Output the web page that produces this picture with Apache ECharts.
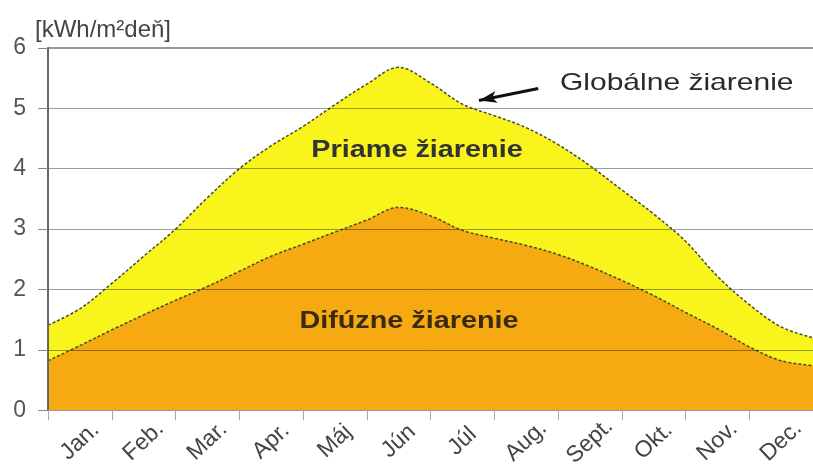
<!DOCTYPE html>
<html>
<head>
<meta charset="utf-8">
<script src="https://cdn.jsdelivr.net/npm/echarts@6/dist/echarts.min.js"></script>
<style>html,body{margin:0;padding:0;background:#fff}#c{width:813px;height:470px}</style>
</head>
<body>
<div id="c"></div>
<script>
const months = ['Jan.','Feb.','Mar.','Apr.','Máj','Jún','Júl','Aug.','Sept.','Okt.','Nov.','Dec.'];
const xPos = [0,0.5,1,1.5,2,2.5,3,3.5,4,4.5,5,5.5,6,6.5,7,7.5,8,8.5,9,9.5,10,10.5,11,11.5,12];
const globalVals = [1.41,1.68,2.1,2.55,3.0,3.52,4.0,4.38,4.7,5.06,5.4,5.68,5.42,5.07,4.88,4.68,4.4,4.05,3.65,3.25,2.8,2.22,1.75,1.38,1.2];
const diffuseVals = [0.82,1.07,1.33,1.58,1.82,2.05,2.3,2.55,2.75,2.95,3.15,3.36,3.22,2.98,2.85,2.73,2.58,2.38,2.15,1.9,1.62,1.35,1.05,0.82,0.74];
const yTicks = [1,2,3,4,5,6];
const yUnit = '[kWh/m²deň]';
const arrowFrom = [7.69, 5.33];
const arrowTo = [6.76, 5.13];

const chart = echarts.init(document.getElementById('c'));
const FF = '"Liberation Sans", Arial, sans-serif';
chart.setOption({
  animation: false,
  title: { text: yUnit, left: 30, top: 13, textStyle: { fontFamily: FF, fontSize: 24, fontWeight: 'normal', color: '#444' } },
  grid: { left: 48, right: -12, top: 48, bottom: 57 },
  xAxis: [
    { type: 'category', data: months, boundaryGap: true, z: 10,
      axisLine: { lineStyle: { color: '#999', width: 1 } },
      axisTick: { show: true, length: 10, lineStyle: { color: '#aaa' } },
      axisLabel: { rotate: 43, align: 'center', verticalAlign: 'middle', margin: 31, fontSize: 23, color: '#444', fontFamily: FF },
      splitLine: { show: false } },
    { type: 'value', min: 0, max: 12, show: false }
  ],
  yAxis: { type: 'value', min: 0, max: 6, interval: 1, z: 10,
    axisLine: { show: true, lineStyle: { color: '#666', width: 2 } },
    axisTick: { show: true, length: 10, lineStyle: { color: '#888' } },
    axisLabel: { fontSize: 23, color: '#555', margin: 22, fontFamily: FF },
    splitLine: { show: false } },
  series: [
    { type: 'line', xAxisIndex: 1, smooth: 0.35, symbol: 'none', z: 2,
      data: xPos.map((x, i) => [x, globalVals[i]]),
      lineStyle: { color: '#4a4a30', width: 1.5, type: [3, 2] },
      areaStyle: { color: '#F8F41C', opacity: 1 },
      markLine: { silent: true, symbol: ['none', 'arrow'], symbolSize: [9, 18], label: { show: false },
        lineStyle: { color: '#111', width: 3, type: 'solid' },
        data: [[{ coord: arrowFrom }, { coord: arrowTo }]] } },
    { type: 'line', xAxisIndex: 1, smooth: 0.35, symbol: 'none', z: 3,
      data: xPos.map((x, i) => [x, diffuseVals[i]]),
      lineStyle: { color: '#4a4a30', width: 1.5, type: [3, 2] },
      areaStyle: { color: '#F5AA12', opacity: 1 },
      markLine: { silent: true, symbol: 'none', label: { show: false },
        lineStyle: { color: 'rgba(0,0,0,0.38)', width: 1, type: 'solid' },
        data: yTicks.map(v => ({ yAxis: v, lineStyle: v === 6 ? { color: '#777', width: 1.5, type: 'solid' } : undefined })) } }
  ],
  graphic: [
    { type: 'text', z: 100, x: 417, y: 150, scaleX: 1.2, style: { text: 'Priame žiarenie', align: 'center', verticalAlign: 'middle', font: 'bold 24px ' + FF, fill: '#333' } },
    { type: 'text', z: 100, x: 409, y: 321, scaleX: 1.2, style: { text: 'Difúzne žiarenie', align: 'center', verticalAlign: 'middle', font: 'bold 24px ' + FF, fill: '#3a2a10' } },
    { type: 'text', z: 100, x: 560, y: 83, scaleX: 1.25, style: { text: 'Globálne žiarenie', align: 'left', verticalAlign: 'middle', font: '24px ' + FF, fill: '#2a2a2a' } }
  ]
});
</script>
</body>
</html>
